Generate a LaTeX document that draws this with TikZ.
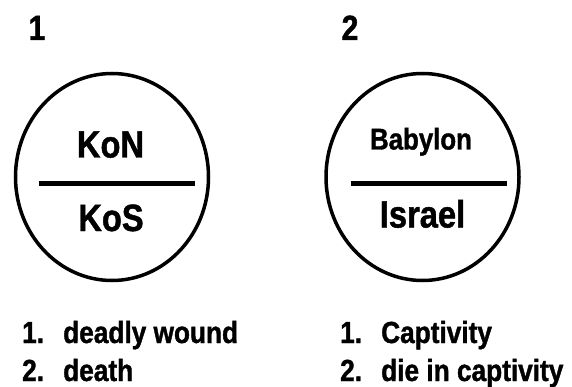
\documentclass[tikz,border=0pt]{standalone}
\usepackage{fontspec}
\setmainfont{Liberation Sans}[FakeStretch=0.86, BoldFeatures={FakeBold=1.2}]
\usetikzlibrary{shapes.geometric, positioning}

\begin{document}
\begin{tikzpicture}[
    x=1pt, y=-1pt,
    every node/.style={inner sep=0pt},
    disc/.style={ellipse, draw, line width=3.5pt, minimum width=193pt, minimum height=207pt},
    bar/.style={line width=4.5pt},
    numlabel/.style={anchor=base, font=\bfseries\fontsize{35}{42}\selectfont},
    bigname/.style={anchor=base, font=\bfseries\fontsize{38}{46}\selectfont},
    smallname/.style={anchor=base, font=\bfseries\fontsize{30}{36}\selectfont},
    listline/.style={anchor=base west, font=\bfseries\fontsize{30.5}{38}\selectfont}
]
\useasboundingbox (0,0) rectangle (572,387);

% first picture
\node[numlabel] (num1) at (37,40) {1};
\node[disc] (disc1) at (112,177) {};
\node[bigname] (kon) at (110.5,157.5) {KoN};
\node[bigname] (kos) at (111,231) {KoS};
\coordinate (bar1l) at (39,183.5);
\coordinate (bar1r) at (195,183.5);
\draw[bar] (bar1l) -- (bar1r);
\node[listline] (wound) at (22,343) {\makebox[41pt][l]{1.}deadly wound};
\node[listline] (death) at (22,381) {\makebox[41pt][l]{2.}death};

% second picture
\node[numlabel] (num2) at (350,40) {2};
\node[disc] (disc2) at (422.5,177) {};
\node[smallname] (babylon) at (421,149.5) {Babylon};
\node[bigname] (israel) at (422.5,227.5) {Israel};
\coordinate (bar2l) at (351,183.5);
\coordinate (bar2r) at (507,183.5);
\draw[bar] (bar2l) -- (bar2r);
\node[listline] (captivity) at (340,343) {\makebox[41pt][l]{1.}Captivity};
\node[listline] (diein) at (340,381) {\makebox[41pt][l]{2.}die in captivity};
\end{tikzpicture}
\end{document}
